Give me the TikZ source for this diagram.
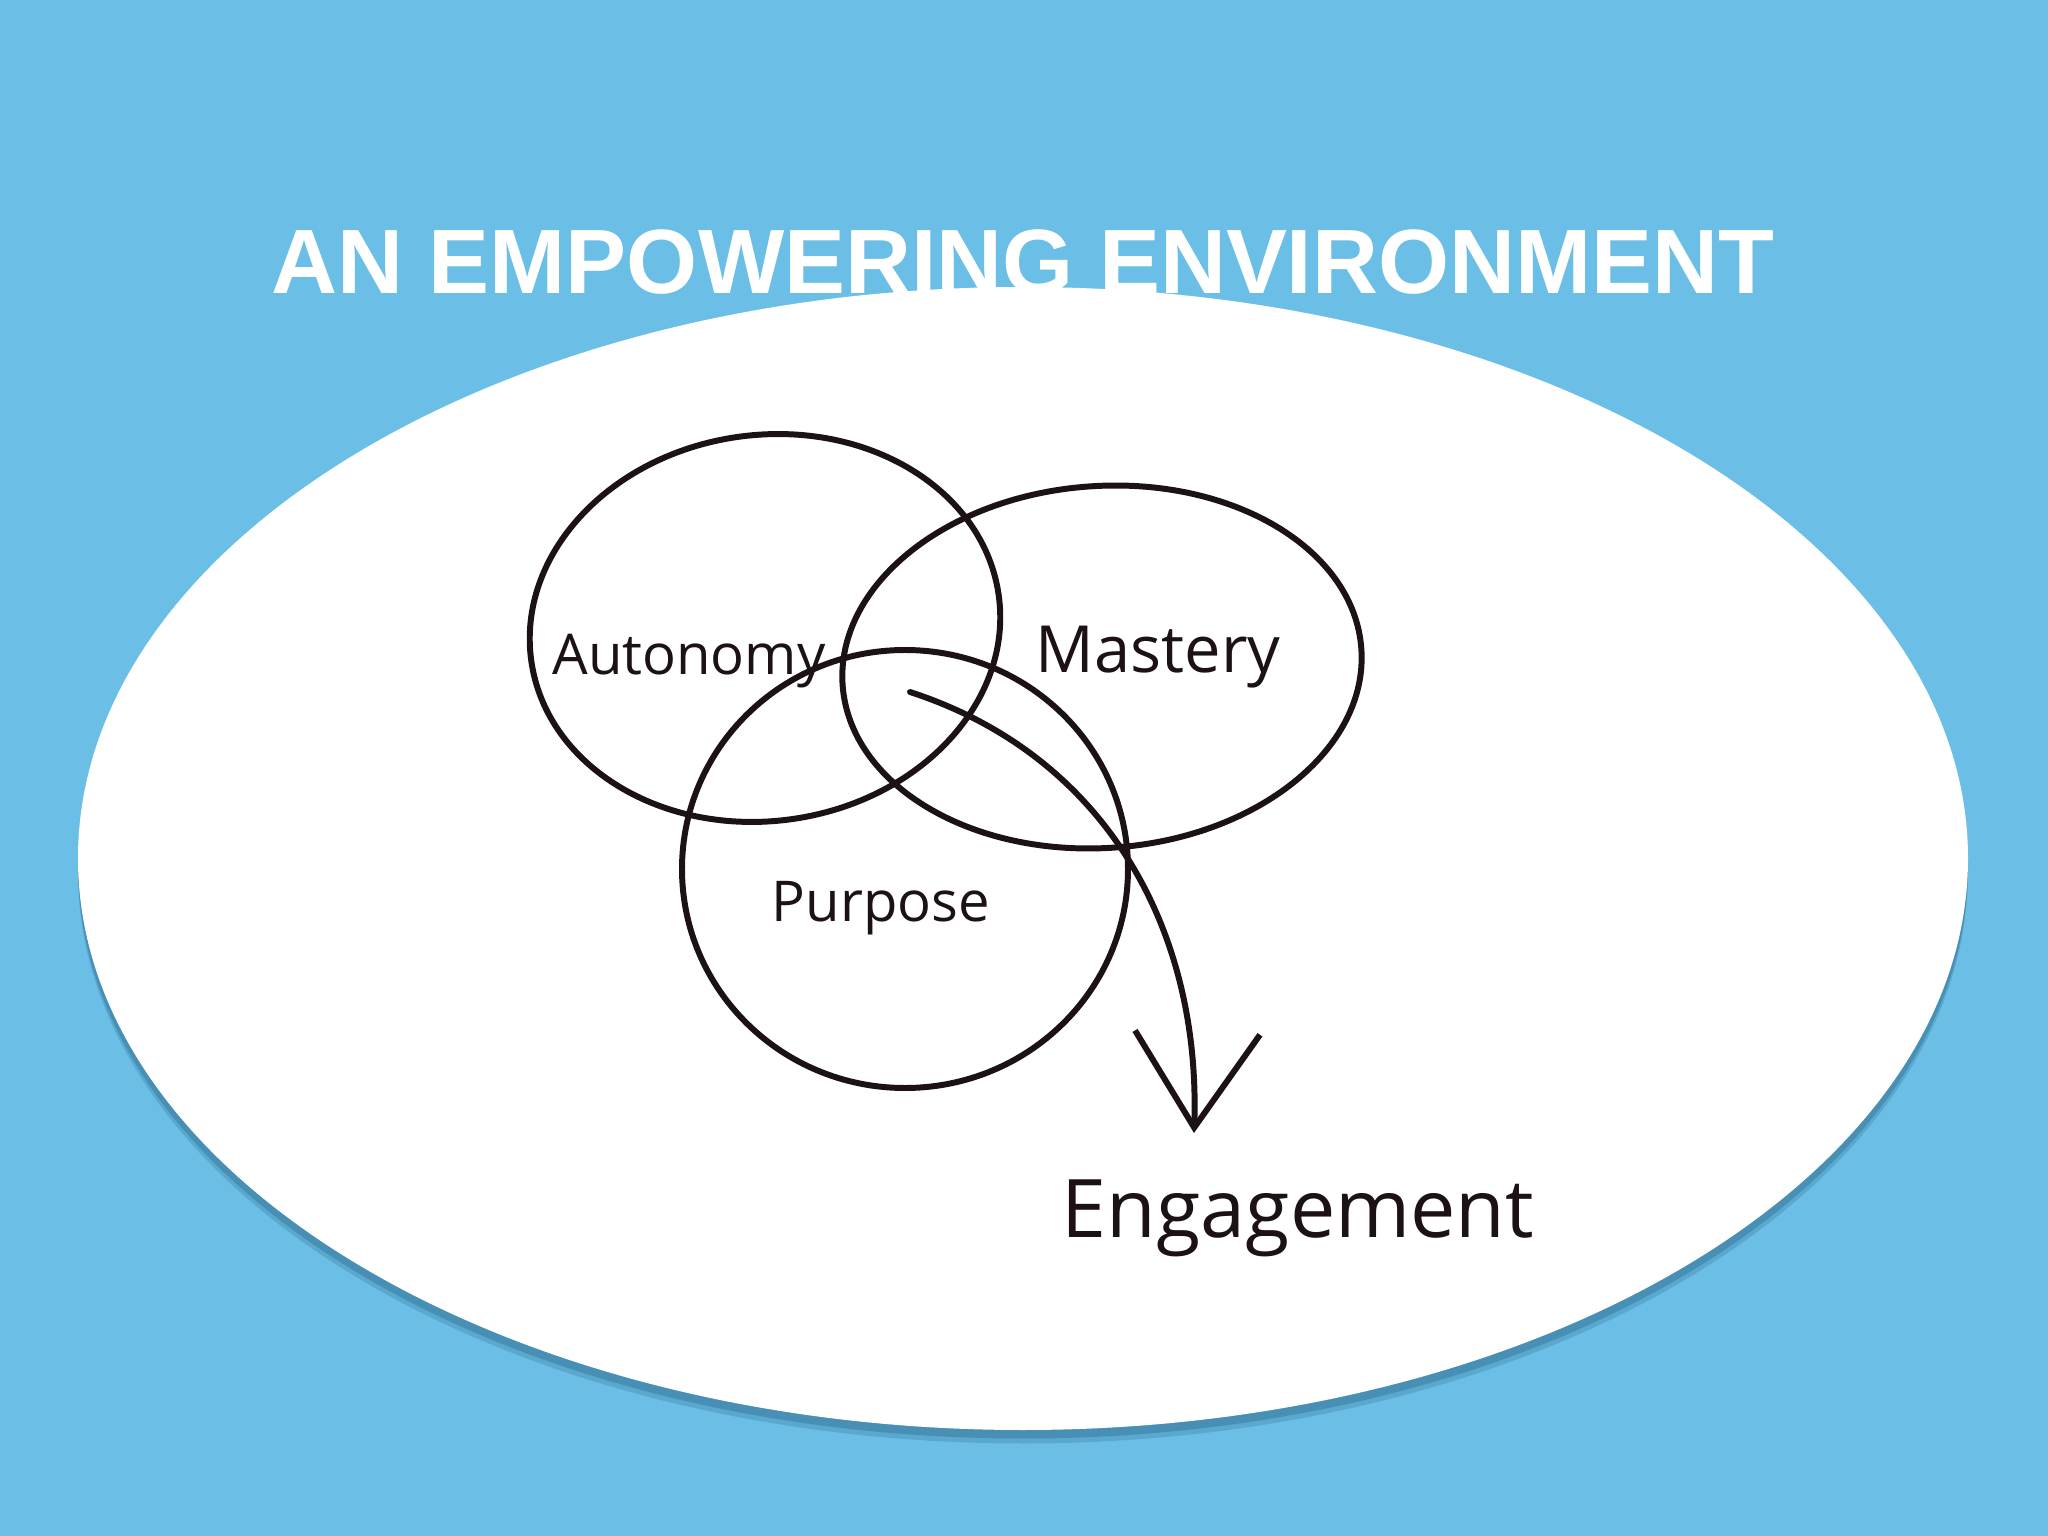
\documentclass[tikz,border=0pt]{standalone}
\usepackage{fontspec}
\setmainfont{Liberation Sans}
\newfontfamily\handfont{Open Sans}
\usetikzlibrary{arrows.meta}

\definecolor{skyblue}{HTML}{6BBFE6}
\definecolor{shadeblue}{HTML}{3B7FA3}
\definecolor{ink}{HTML}{1C1216}

\tikzset{
  ring/.style={draw=ink, line width=1.7pt},
  lbl/.style={text=ink, inner sep=0pt, anchor=base, font=\handfont},
  flow/.style={draw=ink, line width=1.7pt, line cap=round, -{Straight Barb[length=9.5mm,width=12.5mm]}}
}

\begin{document}
\begin{tikzpicture}
\fill[skyblue] (0,0) rectangle (20.48,-15.36);
\useasboundingbox (0,0) rectangle (20.48,-15.36);

% white oval with its shadow
\fill[shadeblue, opacity=0.35] (10.23,-8.72) ellipse (9.45 and 5.715);
\fill[shadeblue, opacity=0.6] (10.23,-8.67) ellipse (9.45 and 5.715);
\fill[white] (10.23,-8.585) ellipse (9.45 and 5.715);
\node[anchor=base, inner sep=0pt, text=white, font=\bfseries\fontsize{26}{30}\selectfont] (title) at (10.23,-2.94) {AN EMPOWERING ENVIRONMENT};

% the three rings
\coordinate (autonomyc) at (7.65,-6.28);
\coordinate (masteryc) at (11.02,-6.67);
\coordinate (purposec) at (9.05,-8.69);
\draw[ring, rotate around={8:(autonomyc)}] (autonomyc) ellipse (2.36 and 1.93);
\draw[ring, rotate around={4:(masteryc)}] (masteryc) ellipse (2.60 and 1.81);
\draw[ring] (purposec) ellipse (2.23 and 2.19);

\node[lbl, font=\handfont\fontsize{16}{18}\selectfont] (autonomy) at (6.89,-6.75) {Autonomy};
\node[lbl, font=\handfont\fontsize{18.5}{20}\selectfont] (mastery) at (11.58,-6.73) {Mastery};
\node[lbl, font=\handfont\fontsize{16}{18}\selectfont] (purpose) at (8.81,-9.21) {Purpose};
\node[lbl, font=\handfont\fontsize{23}{26}\selectfont] (engagement) at (12.98,-12.37) {Engagement};

\coordinate (flowstart) at (9.10,-6.92);
\coordinate (flowend) at (11.94,-11.33);
\draw[flow] (flowstart) to[out=-18, in=88] (flowend);

\end{tikzpicture}
\end{document}
